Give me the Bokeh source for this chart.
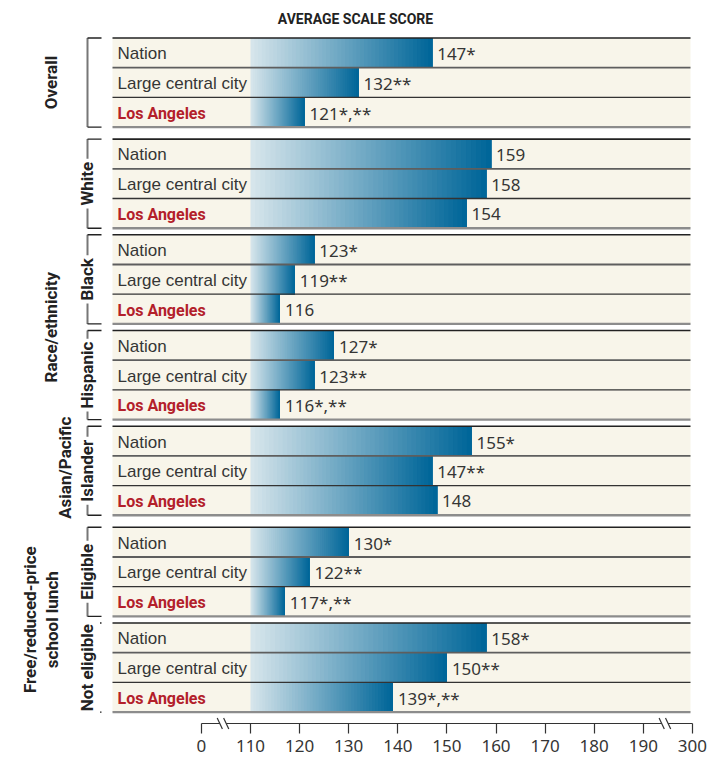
import numpy as np
from bokeh.plotting import figure
from bokeh.models import Range1d, LinearAxis, FixedTicker, ColumnDataSource
from bokeh.core.properties import value
from bokeh.embed import file_html
from bokeh.resources import INLINE

# ---------------- data ----------------
title_text = "AVERAGE SCALE SCORE"
jurisdictions = ["Nation", "Large central city", "Los Angeles"]

overall_scores = [147, 132, 121]
white_scores = [159, 158, 154]
black_scores = [123, 119, 116]
hispanic_scores = [127, 123, 116]
asian_scores = [155, 147, 148]
eligible_scores = [130, 122, 117]
not_eligible_scores = [158, 150, 139]

overall_marks = ["*", "**", "*,**"]
white_marks = ["", "", ""]
black_marks = ["*", "**", ""]
hispanic_marks = ["*", "**", "*,**"]
asian_marks = ["*", "**", ""]
eligible_marks = ["*", "**", "*,**"]
not_eligible_marks = ["*", "**", "*,**"]

group_labels = ["Overall", "White", "Black", "Hispanic", "Asian/Pacific\nIslander", "Eligible", "Not eligible"]
super_labels = ["Race/ethnicity", "Free/reduced-price\nschool lunch"]
axis_tick_labels = [0, 110, 120, 130, 140, 150, 160, 170, 180, 190, 300]
bar_base = 110

all_scores = [overall_scores, white_scores, black_scores, hispanic_scores,
              asian_scores, eligible_scores, not_eligible_scores]
all_marks = [overall_marks, white_marks, black_marks, hispanic_marks,
             asian_marks, eligible_marks, not_eligible_marks]

# ---------------- layout ----------------
PPU = 4.91          # pixels per score unit
BASE_PX = 250       # pixel position of bar base
FW, FH = 723, 757
AXIS_Y = 723
x_lo = bar_base - BASE_PX / PPU
x_hi = x_lo + FW / PPU


def X(px):
    return x_lo + px / PPU


ROW_H = 29.7
GROUP_H = 3 * ROW_H
gaps_after = [12, 6.6, 6.6, 6.6, 12, 6.6]
tops = [37.5]
for gp in gaps_after:
    tops.append(tops[-1] + GROUP_H + gp)
bots = [t + GROUP_H for t in tops]

PANEL_L, PANEL_R = X(112), X(690)
BEIGE = "#f8f5ea"
TXT = "#353535"
DARK = "#222222"
RED = "#b3202a"
BOLD = "Roboto"
REG = "Liberation Sans"
NUM = "Noto Sans"

p = figure(frame_width=FW, frame_height=FH,
           x_range=Range1d(x_lo, x_hi), y_range=Range1d(FH, 0),
           x_axis_location=None, y_axis_location=None,
           toolbar_location=None, output_backend="svg",
           min_border=0, outline_line_color=None,
           background_fill_color="white", border_fill_color="white")
p.grid.visible = False

# panels
p.quad(left=[PANEL_L] * 7, right=[PANEL_R] * 7, top=tops, bottom=bots,
       fill_color=BEIGE, line_color=None)

# gradient bars (each slice runs to the bar end; later slices overlap earlier ones)
c0 = np.array([214, 229, 235])
c1 = np.array([0, 102, 153])
N = 48
L, R, T, B, C = [], [], [], [], []
for g, scores in enumerate(all_scores):
    for r, v in enumerate(scores):
        top = tops[g] + r * ROW_H
        for k in range(N):
            f = k / (N - 1)
            col = np.round(c0 + (c1 - c0) * f).astype(int)
            L.append(bar_base + (v - bar_base) * k / N)
            R.append(v)
            T.append(top)
            B.append(top + ROW_H)
            C.append("#%02x%02x%02x" % tuple(col))
p.quad(source=ColumnDataSource(dict(left=L, right=R, top=T, bottom=B, color=C)),
       left="left", right="right", top="top", bottom="bottom",
       fill_color="color", line_color=None)


# separators
def hlines(ys, color, width):
    p.segment(x0=[PANEL_L] * len(ys), x1=[PANEL_R] * len(ys), y0=ys, y1=ys,
              line_color=color, line_width=width)


hlines(tops, DARK, 1.6)
hlines([t + ROW_H for t in tops], "#5e5e5e", 1.8)
hlines([t + 2 * ROW_H for t in tops], "#333333", 1.3)
hlines(bots, "#8c8c8c", 2.4)

# row labels
lab_x, lab_y, lab_t = [], [], []
for g in range(7):
    for r in range(2):
        lab_x.append(X(117))
        lab_y.append(tops[g] + (r + 0.5) * ROW_H + 1)
        lab_t.append(jurisdictions[r])
p.text(x=lab_x, y=lab_y, text=lab_t, text_font=value(REG), text_font_size="17px",
       text_color=TXT, text_baseline="middle", text_align="left")
p.text(x=[X(117)] * 7, y=[t + 2.5 * ROW_H + 1 for t in tops], text=[jurisdictions[2]] * 7,
       text_font=value(BOLD), text_font_style="bold", text_font_size="16px",
       text_color=RED, text_baseline="middle", text_align="left")

# value labels
vx, vy, vt = [], [], []
for g, (scores, marks) in enumerate(zip(all_scores, all_marks)):
    for r, (v, m) in enumerate(zip(scores, marks)):
        vx.append(v)
        vy.append(tops[g] + (r + 0.5) * ROW_H + 1)
        vt.append(f"{v}{m}")
p.text(x=vx, y=vy, text=vt, x_offset=5, text_font=value(NUM), text_font_size="17px",
       text_color=TXT, text_baseline="middle", text_align="left")

# brackets
BX, BX2 = X(87), X(101)
p.segment(x0=[BX] * 7, x1=[BX] * 7, y0=tops, y1=bots, line_color="#777777", line_width=2)
p.segment(x0=[BX] * 14, x1=[BX2] * 14, y0=tops + bots, y1=tops + bots,
          line_color=DARK, line_width=1.4)

centers = [(t + b) / 2 for t, b in zip(tops, bots)]
on_line = [lbl.split("\n")[-1] for lbl in group_labels[1:]]
p.text(x=[X(86.5)] * 6, y=centers[1:], text=on_line, angle=np.pi / 2,
       text_font=value(BOLD), text_font_style="bold", text_font_size="17px",
       text_color=DARK, text_baseline="middle", text_align="center",
       background_fill_color="white", padding=3)
p.text(x=[X(50), X(64)], y=[centers[0], centers[4] - 3],
       text=[group_labels[0], group_labels[4].split("\n")[0]], angle=np.pi / 2,
       text_font=value(BOLD), text_font_style="bold", text_font_size="17px",
       text_color=DARK, text_baseline="middle", text_align="center")
race_c = (tops[1] + bots[4]) / 2
lunch_c = (tops[5] + bots[6]) / 2
lunch_lines = super_labels[1].split("\n")
p.text(x=[X(50), X(29), X(51.5)], y=[race_c, lunch_c, lunch_c],
       text=[super_labels[0], lunch_lines[0], lunch_lines[1]], angle=np.pi / 2,
       text_font=value(BOLD), text_font_style="bold", text_font_size="17px",
       text_color=DARK, text_baseline="middle", text_align="center")

# title
p.text(x=[X(355)], y=[18], text=[title_text], text_font=value(BOLD),
       text_font_style="bold", text_font_size="14px", text_color=DARK,
       text_baseline="middle", text_align="center")

# axis with breaks
regular = axis_tick_labels[1:-1]
positions = [regular[0] - 10] + regular + [regular[-1] + 10]
overrides = {pos: str(lbl) for pos, lbl in zip(positions, axis_tick_labels)}
axis = LinearAxis(ticker=FixedTicker(ticks=positions), bounds=(positions[0], positions[-1]),
                  major_label_overrides=overrides, fixed_location=AXIS_Y)
axis.axis_line_color = "#333333"
axis.axis_line_width = 1.2
axis.major_tick_line_color = "#333333"
axis.major_tick_line_width = 1.2
axis.major_tick_out = 10
axis.major_tick_in = 0
axis.minor_tick_line_color = None
axis.major_label_standoff = 6
axis.major_label_text_font = NUM
axis.major_label_text_font_size = "17px"
axis.major_label_text_color = TXT
p.add_layout(axis, "below")

# break marks on the axis line
brk_x = [(positions[0] + positions[1]) / 2 - 0.6, (positions[-2] + positions[-1]) / 2 - 0.6]
dx, dy, sep = 2.6 / PPU, 5.5, 3.2 / PPU
gap = p.quad(left=[b - sep for b in brk_x], right=[b + sep for b in brk_x],
             top=[AXIS_Y - 1.5] * 2, bottom=[AXIS_Y + 1.5] * 2,
             fill_color="white", line_color=None)
gap.level = "overlay"
sx0, sx1, sy0, sy1 = [], [], [], []
for b in brk_x:
    for s in (-sep, sep):
        sx0.append(b + s - dx)
        sx1.append(b + s + dx)
        sy0.append(AXIS_Y - dy)
        sy1.append(AXIS_Y + dy)
sl = p.segment(x0=sx0, x1=sx1, y0=sy0, y1=sy1, line_color="#333333", line_width=1.2)
sl.level = "overlay"

open("out.html", "w").write(file_html(p, INLINE))
